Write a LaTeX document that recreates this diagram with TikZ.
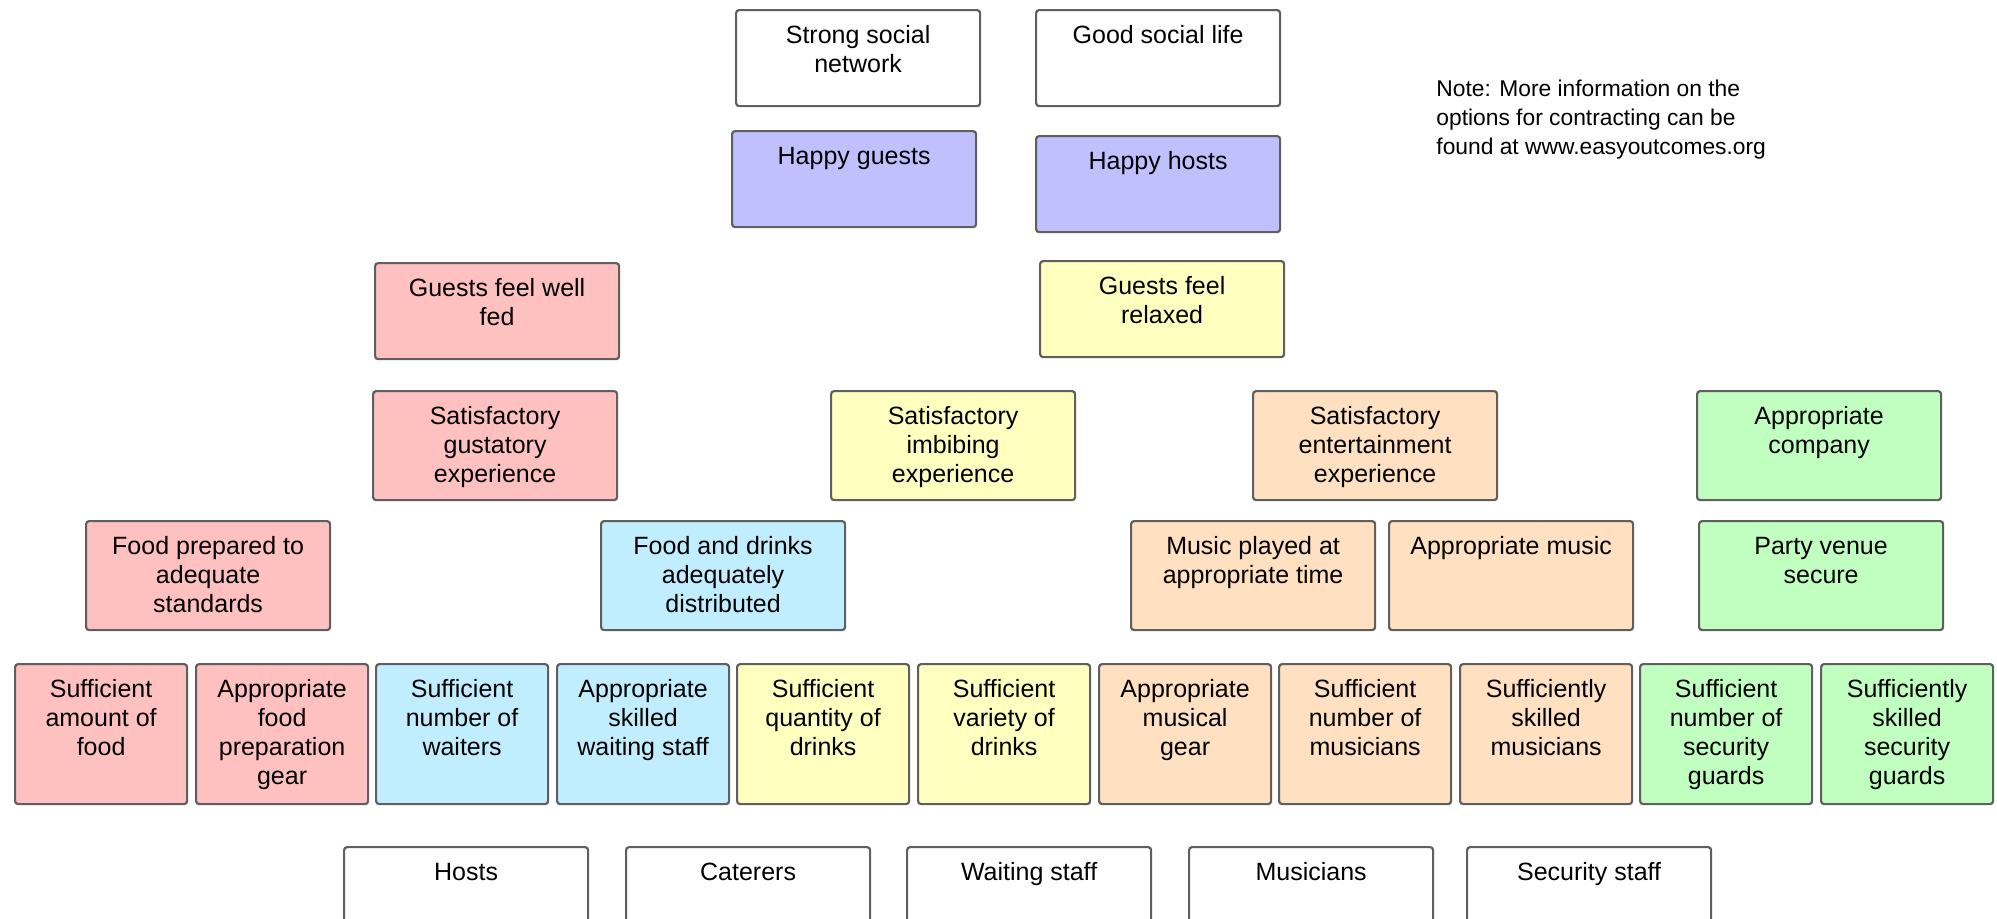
\documentclass[tikz,border=0pt]{standalone}
\usepackage{fontspec}
\setmainfont{Liberation Sans}
\usepackage{tikz}

\definecolor{boxline}{RGB}{95,95,95}
\definecolor{pinkbox}{RGB}{255,192,192}
\definecolor{purplebox}{RGB}{192,192,255}
\definecolor{yellowbox}{RGB}{255,255,192}
\definecolor{bluebox}{RGB}{192,238,255}
\definecolor{peachbox}{RGB}{255,224,192}
\definecolor{greenbox}{RGB}{192,255,192}

\newcommand{\bigtxt}[1]{\parbox[t][34.8pt][t]{114pt}{\centering\strut #1}}
\newcommand{\midtxt}[1]{\parbox[t][41.3pt][t]{114pt}{\centering\strut #1}}
\newcommand{\smalltxt}[1]{\parbox[t][56.8pt][t]{78pt}{\centering\strut #1}}

\begin{document}
\begin{tikzpicture}[x=0.5pt, y=-0.5pt,
        goal/.style={draw=boxline, line width=1.1pt, rounded corners=1.5pt,
            anchor=north west, inner xsep=4pt, inner ysep=6.6pt,
            font=\fontsize{12.5pt}{14.5pt}\selectfont},
        note/.style={anchor=north west, inner sep=0pt, align=left,
            font=\fontsize{11.4pt}{14.35pt}\selectfont}]
    \useasboundingbox (0,0) rectangle (1997,918);
    \clip (0,0) rectangle (1997,918);

        % top goals
        \node[goal, fill=white] (ssn) at (735,9) {\bigtxt{Strong social\\network}};
        \node[goal, fill=white] (gsl) at (1035,9) {\bigtxt{Good social life}};
        \node[goal, fill=purplebox] (hguests) at (731,130) {\bigtxt{Happy guests}};
        \node[goal, fill=purplebox] (hhosts) at (1035,135) {\bigtxt{Happy hosts}};
        \node[goal, fill=pinkbox] (fed) at (374,262) {\bigtxt{Guests feel well\\fed}};
        \node[goal, fill=yellowbox] (relaxed) at (1039,260) {\bigtxt{Guests feel\\relaxed}};

        \node[note] (note) at (1436,80) {Note: More information on the\\
            options for contracting can be\\found at www.easyoutcomes.org};

        % experiences
        \node[goal, fill=pinkbox] (gust) at (372,390) {\midtxt{Satisfactory\\gustatory\\experience}};
        \node[goal, fill=yellowbox] (imbib) at (830,390) {\midtxt{Satisfactory\\imbibing\\experience}};
        \node[goal, fill=peachbox] (entert) at (1252,390) {\midtxt{Satisfactory\\entertainment\\experience}};
        \node[goal, fill=greenbox] (company) at (1696,390) {\midtxt{Appropriate\\company}};

        \node[goal, fill=pinkbox] (foodprep) at (85,520) {\midtxt{Food prepared to\\adequate\\standards}};
        \node[goal, fill=bluebox] (distrib) at (600,520) {\midtxt{Food and drinks\\adequately\\distributed}};
        \node[goal, fill=peachbox] (musictime) at (1130,520) {\midtxt{Music played at\\appropriate time}};
        \node[goal, fill=peachbox] (musicok) at (1388,520) {\midtxt{Appropriate music}};
        \node[goal, fill=greenbox] (venue) at (1698,520) {\midtxt{Party venue\\secure}};

        % sufficiency row
        \node[goal, fill=pinkbox] (foodamount) at (14,663) {\smalltxt{Sufficient\\amount of\\food}};
        \node[goal, fill=pinkbox] (foodgear) at (195,663) {\smalltxt{Appropriate\\food\\preparation\\gear}};
        \node[goal, fill=bluebox] (waiters) at (375,663) {\smalltxt{Sufficient\\number of\\waiters}};
        \node[goal, fill=bluebox] (waitskill) at (556,663) {\smalltxt{Appropriate\\skilled\\waiting staff}};
        \node[goal, fill=yellowbox] (drinkqty) at (736,663) {\smalltxt{Sufficient\\quantity of\\drinks}};
        \node[goal, fill=yellowbox] (drinkvar) at (917,663) {\smalltxt{Sufficient\\variety of\\drinks}};
        \node[goal, fill=peachbox] (musicgear) at (1098,663) {\smalltxt{Appropriate\\musical\\gear}};
        \node[goal, fill=peachbox] (musicnum) at (1278,663) {\smalltxt{Sufficient\\number of\\musicians}};
        \node[goal, fill=peachbox] (musicskill) at (1459,663) {\smalltxt{Sufficiently\\skilled\\musicians}};
        \node[goal, fill=greenbox] (guardnum) at (1639,663) {\smalltxt{Sufficient\\number of\\security\\guards}};
        \node[goal, fill=greenbox] (guardskill) at (1820,663) {\smalltxt{Sufficiently\\skilled\\security\\guards}};

        % contractors
        \node[goal, fill=white] (hosts) at (343,846) {\bigtxt{Hosts}};
        \node[goal, fill=white] (caterers) at (625,846) {\bigtxt{Caterers}};
        \node[goal, fill=white] (waitstaff) at (906,846) {\bigtxt{Waiting staff}};
        \node[goal, fill=white] (musicians) at (1188,846) {\bigtxt{Musicians}};
        \node[goal, fill=white] (security) at (1466,846) {\bigtxt{Security staff}};
\end{tikzpicture}
\end{document}
